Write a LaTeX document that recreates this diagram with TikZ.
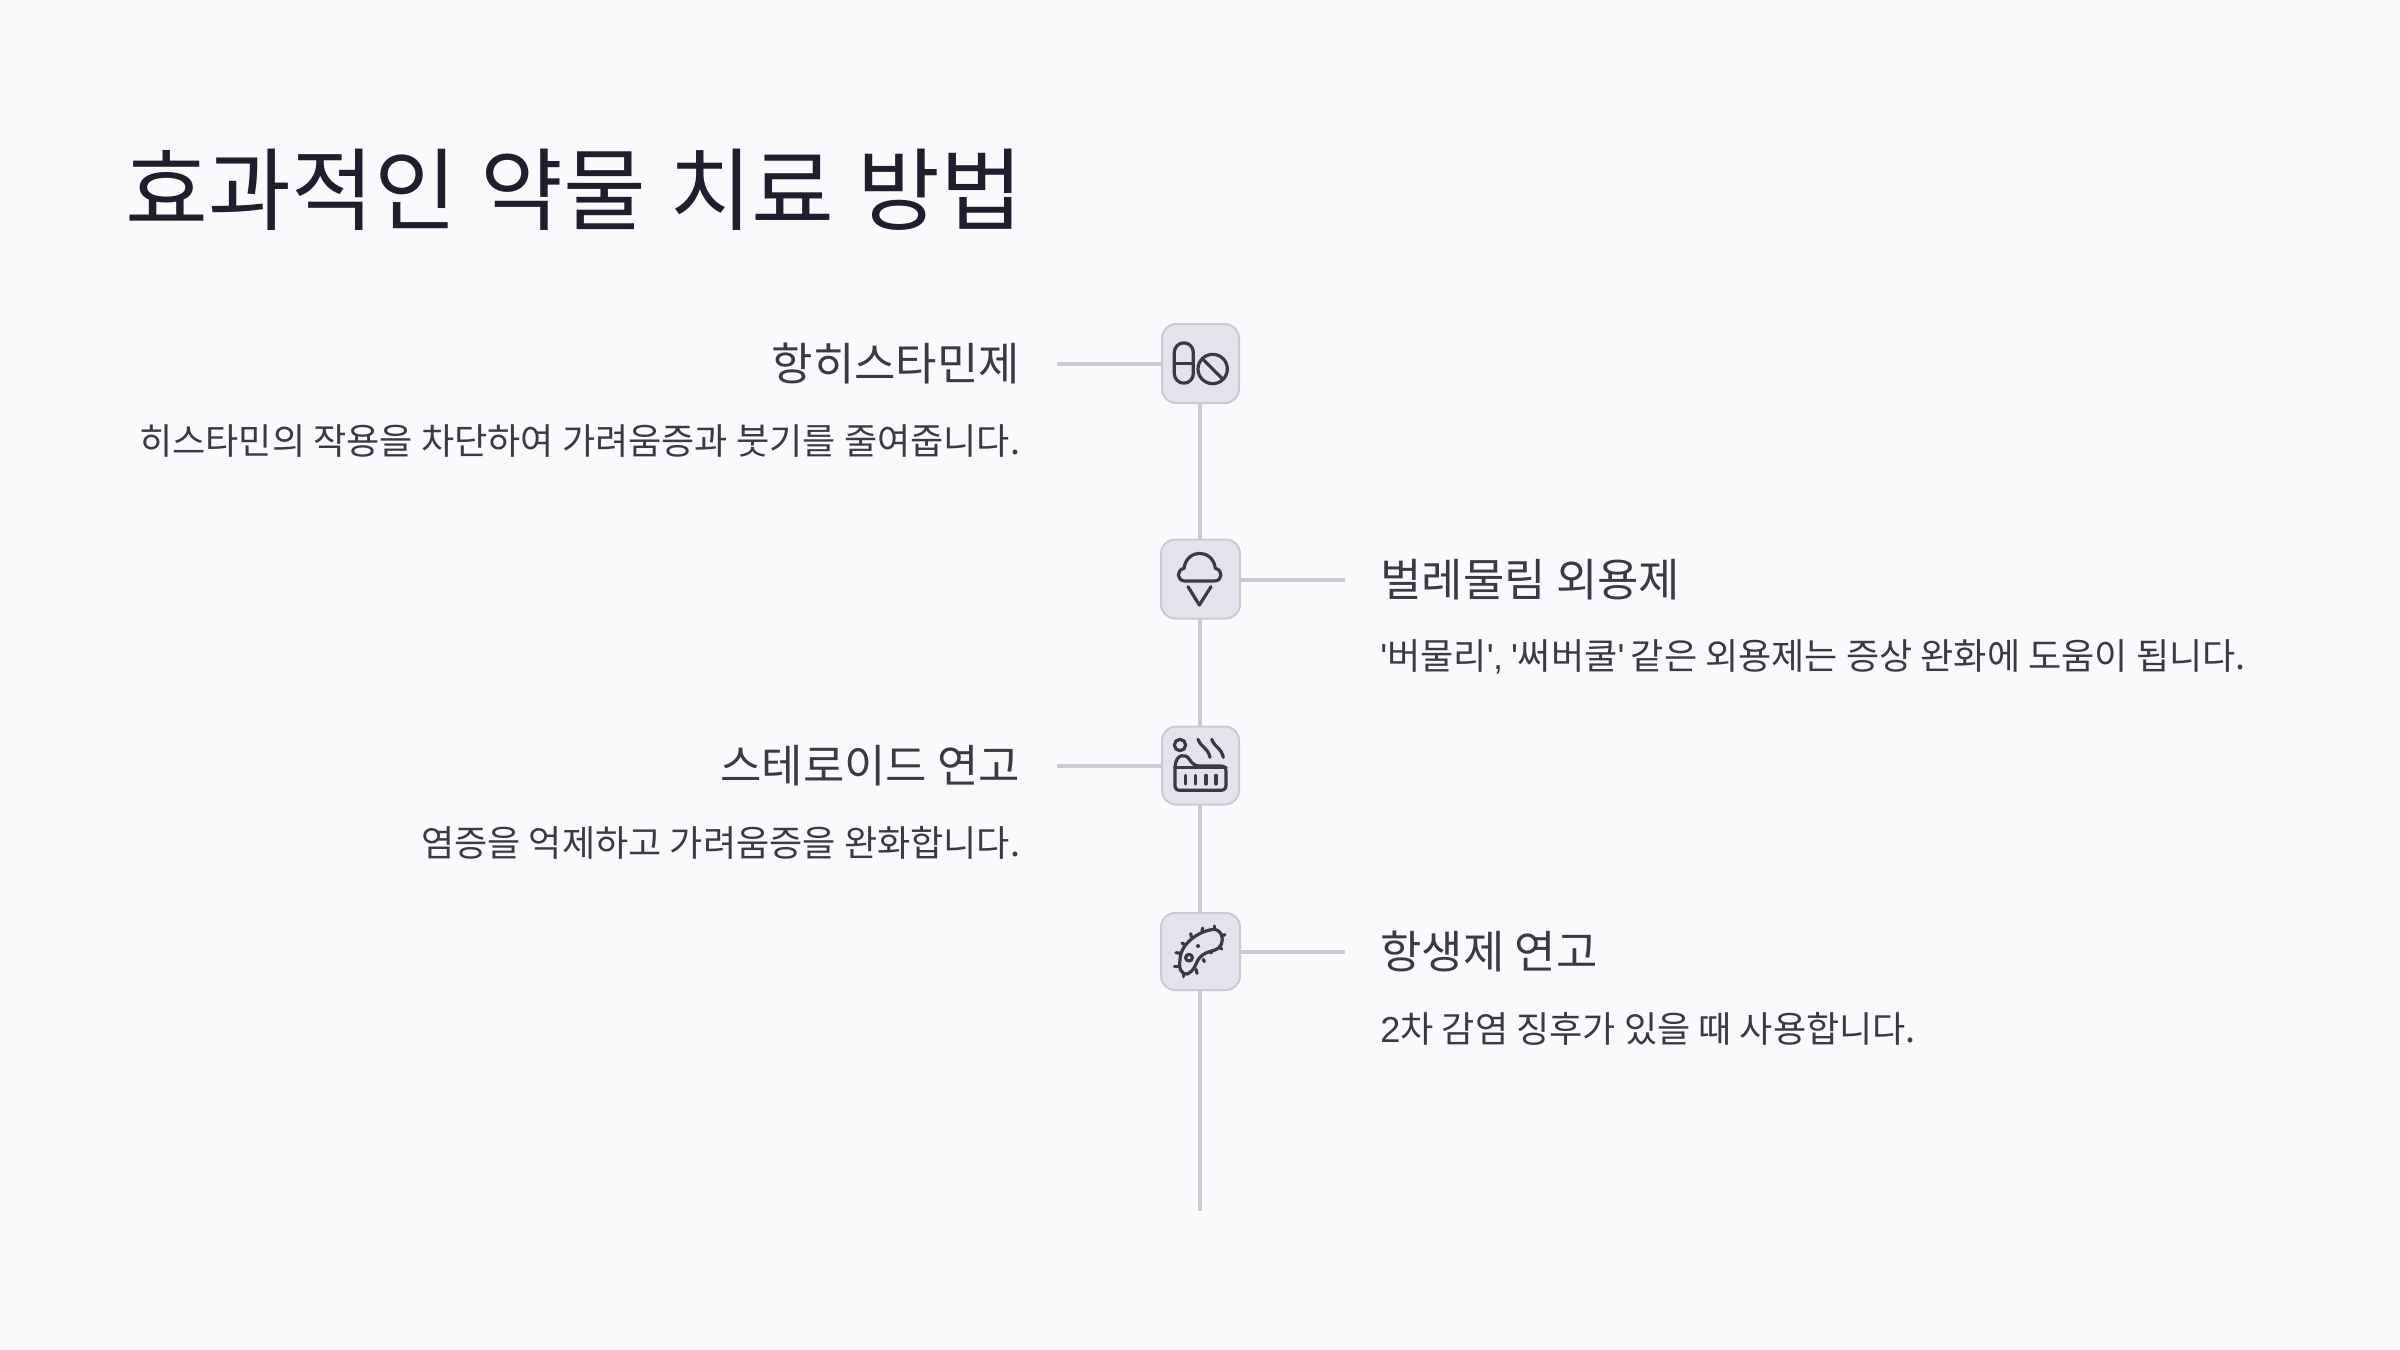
\documentclass[tikz,border=0pt]{standalone}
\usepackage{fontspec}
\setmainfont{Noto Sans CJK KR}
\newfontfamily\latinpart{Liberation Sans}
\definecolor{bgc}{HTML}{FAFAFD}
\definecolor{boxfill}{HTML}{E3E3EB}
\definecolor{boxline}{HTML}{CACAD2}
\definecolor{titlec}{HTML}{1E1E2C}
\definecolor{textc}{HTML}{3A3A42}
\definecolor{iconc}{HTML}{3A3A40}
\tikzset{
 iconbox/.style={draw=boxline,fill=boxfill,line width=1pt,rounded corners=7pt,inner sep=0pt},
 link/.style={draw=boxline,line width=2pt},
 icon/.style={draw=iconc,line width=1.6pt,line cap=round,line join=round},
 head/.style={font=\fontsize{22.5}{26}\selectfont,text=textc,inner sep=0pt},
 body/.style={font=\fontsize{18.05}{22}\selectfont,text=textc,inner sep=0pt},
 ttl/.style={font=\fontsize{45}{52}\selectfont,text=titlec,inner sep=0pt},
}
\begin{document}
\begin{tikzpicture}[x=0.5pt,y=-0.5pt]
\useasboundingbox[fill=bgc] (0,0) rectangle (2400,1350);
\node[ttl,anchor=base west] (title) at (125.5,223) {\spaceskip=0.258em\relax 효과적인 약물 치료 방법};
\coordinate (lineend) at (1200,1211);
\coordinate (l1) at (1057,364);
\coordinate (r2) at (1345,580);
\coordinate (l3) at (1057,766);
\coordinate (r4) at (1345,952);
\coordinate (v1a) at (1200,403.5);
\coordinate (v2t) at (1200,539);
\coordinate (v2a) at (1200,618.5);
\coordinate (v2b) at (1200,726);
\coordinate (v3a) at (1200,805);
\coordinate (v3b) at (1200,912);
\coordinate (v4a) at (1200,991);
\draw[link] (v1a) -- (v2t);
\draw[link] (v2a) -- (v2b);
\draw[link] (v3a) -- (v3b);
\draw[link] (v4a) -- (lineend);
\node[iconbox,minimum width=38.5pt,minimum height=39.5pt] (b1) at (1200.5,363.5) {};
\node[iconbox,minimum width=39.5pt,minimum height=39.5pt] (b2) at (1200.5,579) {};
\node[iconbox,minimum width=38.5pt,minimum height=39pt] (b3) at (1200.5,765.5) {};
\node[iconbox,minimum width=39.5pt,minimum height=38.5pt] (b4) at (1200.5,951.5) {};
\draw[link] (l1) -- (b1.west |- l1);
\draw[link] (b2.east |- r2) -- (r2);
\draw[link] (l3) -- (b3.west |- l3);
\draw[link] (b4.east |- r4) -- (r4);
\node[head,anchor=base east] (h1) at (1020.5,380) {항히스타민제};
\node[body,anchor=base east] (d1) at (1020.5,454) {히스타민의 작용을 차단하여 가려움증과 붓기를 줄여줍니다.};
\node[head,anchor=base west] (h2) at (1380,596) {벌레물림 외용제};
\node[body,anchor=base west] (d2) at (1380,669.5) {{\latinpart '}버물리{\latinpart '\kern-0.4pt, \kern-1pt'}써버쿨{\latinpart '}\kern-0.9pt{} 같은 외용제는 증상 완화에 도움이 됩니다.};
\node[head,anchor=base east] (h3) at (1020.5,782) {스테로이드 연고};
\node[body,anchor=base east] (d3) at (1020.5,856) {염증을 억제하고 가려움증을 완화합니다.};
\node[head,anchor=base west] (h4) at (1380,968) {항생제 연고};
\node[body,anchor=base west] (d4) at (1380,1042) {{\latinpart 2}차 감염 징후가 있을 때 사용합니다.};
% pill icon
\begin{scope}[shift={(1130,300)},x=0.16667pt,y=-0.16667pt,icon]
\draw (133,157) arc (180:360:28.5) -- (190,221) arc (0:180:28.5) -- cycle;
\draw (133,190) -- (190,190);
\draw (248,207) circle (44);
\draw (217,176) -- (279,238);
\end{scope}
% ice cream icon
\begin{scope}[shift={(1130,520)},x=0.16667pt,y=-0.16667pt,icon]
\draw (165,183) .. controls (140,183) and (138,150) .. (162,145) .. controls (170,85) and (248,85) .. (256,145) .. controls (280,150) and (278,183) .. (253,183) -- cycle;
\draw (174,200) -- (208,255) -- (243,200);
\end{scope}
% hot tub icon
\begin{scope}[shift={(1130,710)},x=0.16667pt,y=-0.16667pt,icon]
\draw (150,105) circle (17);
\draw (135,170) .. controls (138,130) and (168,130) .. (178,148) .. controls (188,162) and (195,168) .. (210,168) -- (272,168) .. controls (284,168) and (288,174) .. (288,184) -- (288,226) .. controls (288,236) and (282,241) .. (272,241) -- (150,241) .. controls (140,241) and (135,236) .. (135,226) -- cycle;
\draw (135,172) -- (288,172);
\draw (166,196) -- (166,222);
\draw (197,196) -- (197,222);
\draw (228,196) -- (228,222);
\draw (258,196) -- (258,222);
\draw (204,88) .. controls (215,115) and (232,110) .. (240,142);
\draw (245,88) .. controls (256,115) and (272,110) .. (280,142);
\end{scope}
% bacterium icon
\begin{scope}[shift={(1130,900)},x=0.16667pt,y=-0.16667pt,icon]
\draw (150,180) .. controls (150,130) and (210,90) .. (255,88) .. controls (280,95) and (282,125) .. (268,142) .. controls (250,158) and (225,150) .. (205,178) .. controls (195,195) and (195,210) .. (172,222) .. controls (155,225) and (145,205) .. (150,180) -- cycle;
\draw (177,173) circle (10);
\fill[iconc] (204,138) circle (6);
\foreach \a/\b/\c/\d in {216/94/218/84,184/110/182/101,165/135/156/129,152/160/138/158,146/200/133/200,160/218/160/230,198/208/201/220,220/178/223/185,245/152/243/159,268/140/275/147,275/108/285/104,254/88/254/78}{
 \draw (\a,\b) -- (\c,\d);
}
\end{scope}
\end{tikzpicture}
\end{document}
